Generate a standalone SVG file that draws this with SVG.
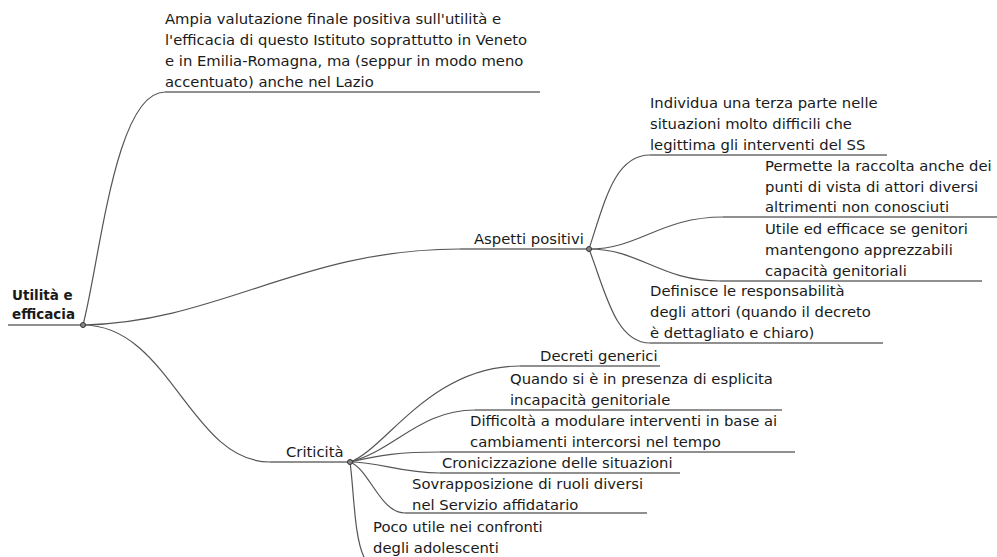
<svg xmlns="http://www.w3.org/2000/svg" width="997" height="557" viewBox="0 0 997 557">
<style>
text{font-family:"DejaVu Sans","Noto Sans",sans-serif;font-size:14.8px;fill:#1a1a1a}
.root{font-weight:bold;font-size:13.5px}
.c{fill:none;stroke:#555;stroke-width:1.2}
.u{fill:none;stroke:#222;stroke-width:1.2}
.dot{fill:#888;stroke:#333;stroke-width:1}
</style>
<rect width="997" height="557" fill="#fff"/>
<g id="connectors">
<path class="c" d="M83,325 C100,260 115,92 165,92"/>
<path class="c" d="M83,325 C220,322 300,249 460,249"/>
<path class="c" d="M83,325 C170,325 190,462 270,462"/>
<path class="c" d="M589,249 C605,200 615,155 650,155"/>
<path class="c" d="M589,249 C640,249 660,217 723,217"/>
<path class="c" d="M589,249 C640,249 660,281 720,281"/>
<path class="c" d="M589,249 C605,290 615,343 650,343"/>
<path class="c" d="M350,462 C385,450 430,366 520,366"/>
<path class="c" d="M350,462 C395,450 420,410 475,410"/>
<path class="c" d="M350,462 C380,455 400,452 440,452"/>
<path class="c" d="M350,462 C380,462 400,473 440,473"/>
<path class="c" d="M350,462 C370,470 380,513 405,513"/>
<path class="c" d="M350,462 C354,490 354,540 365,559"/>
</g>
<g id="root">
<path class="u" d="M8,325 H83"/>
<text class="root" x="12" y="300">Utilità e</text>
<text class="root" x="12" y="319">efficacia</text>
<circle class="dot" cx="83" cy="325" r="2.5"/>
</g>
<g id="n-ampia">
<path class="u" d="M165,92 H540"/>
<text x="165" y="24">Ampia valutazione finale positiva sull'utilità e</text>
<text x="165" y="45">l'efficacia di questo Istituto soprattutto in Veneto</text>
<text x="165" y="66">e in Emilia-Romagna, ma (seppur in modo meno</text>
<text x="165" y="87">accentuato) anche nel Lazio</text>
</g>
<g id="n-aspetti">
<path class="u" d="M460,249 H589"/>
<text x="474" y="244">Aspetti positivi</text>
<circle class="dot" cx="589" cy="249" r="2.5"/>
</g>
<g id="n-individua">
<path class="u" d="M650,155 H887"/>
<text x="650" y="108">Individua una terza parte nelle</text>
<text x="650" y="129">situazioni molto difficili che</text>
<text x="650" y="150">legittima gli interventi del SS</text>
</g>
<g id="n-permette">
<path class="u" d="M723,217 H997"/>
<text x="765" y="171">Permette la raccolta anche dei</text>
<text x="765" y="192">punti di vista di attori diversi</text>
<text x="765" y="212">altrimenti non conosciuti</text>
</g>
<g id="n-utile">
<path class="u" d="M720,281 H982"/>
<text x="765" y="234">Utile ed efficace se genitori</text>
<text x="765" y="255">mantengono apprezzabili</text>
<text x="765" y="276">capacità genitoriali</text>
</g>
<g id="n-definisce">
<path class="u" d="M650,343 H883"/>
<text x="650" y="296">Definisce le responsabilità</text>
<text x="650" y="317">degli attori (quando il decreto</text>
<text x="650" y="338">è dettagliato e chiaro)</text>
</g>
<g id="n-criticita">
<path class="u" d="M270,462 H350"/>
<text x="286" y="457">Criticità</text>
<circle class="dot" cx="350" cy="462" r="2.5"/>
</g>
<g id="n-decreti">
<path class="u" d="M520,366 H660"/>
<text x="540" y="361">Decreti generici</text>
</g>
<g id="n-quando">
<path class="u" d="M475,410 H782"/>
<text x="510" y="384">Quando si è in presenza di esplicita</text>
<text x="510" y="405">incapacità genitoriale</text>
</g>
<g id="n-difficolta">
<path class="u" d="M440,452 H795"/>
<text x="470" y="426">Difficoltà a modulare interventi in base ai</text>
<text x="470" y="447">cambiamenti intercorsi nel tempo</text>
</g>
<g id="n-cronic">
<path class="u" d="M440,473 H680"/>
<text x="442" y="468">Cronicizzazione delle situazioni</text>
</g>
<g id="n-sovrap">
<path class="u" d="M405,513 H647"/>
<text x="412" y="489">Sovrapposizione di ruoli diversi</text>
<text x="412" y="510">nel Servizio affidatario</text>
</g>
<g id="n-poco">
<text x="373" y="532">Poco utile nei confronti</text>
<text x="373" y="553">degli adolescenti</text>
</g>
</svg>
